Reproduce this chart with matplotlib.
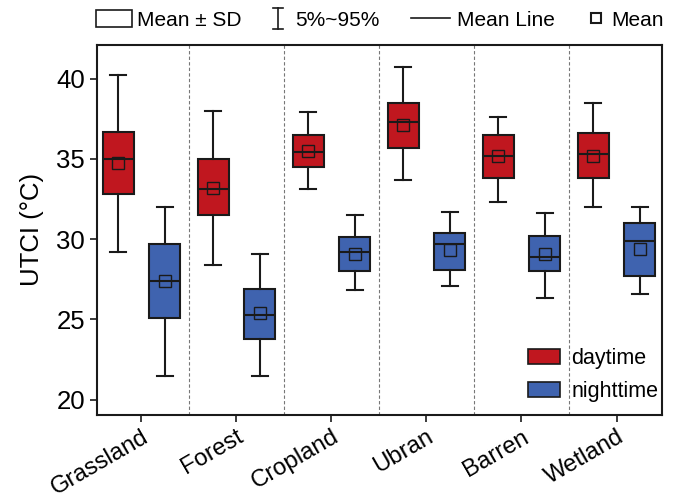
import numpy as np
import matplotlib
matplotlib.use("Agg")
import matplotlib.pyplot as plt
from matplotlib.patches import Patch, Rectangle
from matplotlib.lines import Line2D

plt.rcParams['font.family'] = ['Liberation Sans', 'DejaVu Sans']

# data (UTCI, degC)
cats = ["Grassland", "Forest", "Cropland", "Ubran", "Barren", "Wetland"]

day_p5 = [29.2, 28.4, 33.1, 33.7, 32.3, 32.0]
day_lo = [32.8, 31.5, 34.5, 35.7, 33.8, 33.8]
day_line = [35.0, 33.1, 35.4, 37.3, 35.2, 35.3]
day_mean = [34.75, 33.2, 35.5, 37.1, 35.15, 35.2]
day_hi = [36.7, 35.0, 36.5, 38.5, 36.5, 36.6]
day_p95 = [40.2, 38.0, 37.9, 40.7, 37.6, 38.5]

night_p5 = [21.5, 21.5, 26.8, 27.1, 26.3, 26.6]
night_lo = [25.1, 23.8, 28.0, 28.1, 28.0, 27.7]
night_line = [27.4, 25.3, 29.2, 29.7, 28.9, 29.9]
night_mean = [27.4, 25.4, 29.05, 29.3, 29.1, 29.4]
night_hi = [29.7, 26.9, 30.1, 30.4, 30.2, 31.0]
night_p95 = [32.0, 29.1, 31.5, 31.7, 31.6, 32.0]

red = '#C0171F'
blue = '#3F63AF'
ink = '#1a1a1a'


def make_stats(p5, lo, line, mean, hi, p95):
    return [dict(whislo=a, q1=b, med=c, mean=d, q3=e, whishi=f)
            for a, b, c, d, e, f in zip(p5, lo, line, mean, hi, p95)]


W, H = 677, 498
fig = plt.figure(figsize=(W / 100, H / 100), dpi=100)
ax = fig.add_axes([0.143, 0.167, 0.835, 0.743])

x = np.arange(len(cats))
off = 0.245
w = 0.33

for stats, pos, col in [(make_stats(day_p5, day_lo, day_line, day_mean, day_hi, day_p95), x - off, red),
                        (make_stats(night_p5, night_lo, night_line, night_mean, night_hi, night_p95), x + off, blue)]:
    ax.bxp(stats, positions=pos, widths=w, capwidths=0.17, patch_artist=True,
           showmeans=True, showfliers=False,
           boxprops=dict(facecolor=col, edgecolor=ink, lw=1.5),
           whiskerprops=dict(color=ink, lw=1.5),
           capprops=dict(color=ink, lw=1.5),
           medianprops=dict(color=ink, lw=1.5),
           meanprops=dict(marker='s', markersize=8, markerfacecolor='none',
                          markeredgecolor=ink, markeredgewidth=1.0))

for xs in x[:-1] + 0.5:
    ax.axvline(xs, color='#777777', lw=0.8, ls=(0, (3, 2)), zorder=0)

ax.set_xlim(-0.47, 5.48)
ax.set_ylim(19.05, 42.1)
ax.set_yticks([20, 25, 30, 35, 40])
ax.set_xticks(x)
ax.set_xticklabels(cats, rotation=30, ha='right', rotation_mode='anchor')
ax.tick_params(axis='both', width=1.2, length=5, color=ink)
ax.tick_params(axis='y', labelsize=18.5)
ax.tick_params(axis='x', labelsize=17.2, pad=3)
ax.set_ylabel('UTCI (°C)', fontsize=18.5, labelpad=9)
for s in ax.spines.values():
    s.set_linewidth(1.5)
    s.set_color(ink)

# daytime / nighttime legend
ax.legend(handles=[Patch(facecolor=red, edgecolor=ink, lw=1.2, label='daytime'),
                   Patch(facecolor=blue, edgecolor=ink, lw=1.2, label='nighttime')],
          loc='lower right', bbox_to_anchor=(0.993, 0.035), borderaxespad=0, borderpad=0,
          frameon=False, fontsize=15.5, handlelength=1.5, handleheight=0.7,
          handletextpad=0.5, labelspacing=0.55)

# key of the symbols above the axes (figure pixel positions -> fractions)
fx = lambda px: px / W
fy = lambda py: 1 - py / H
yc = 18
fig.add_artist(Rectangle((fx(96), fy(27)), fx(132) - fx(96), fy(10) - fy(27),
                         transform=fig.transFigure, facecolor='white', edgecolor=ink, lw=1.2))
fig.add_artist(Line2D([fx(278), fx(278)], [fy(29), fy(8)], transform=fig.transFigure, color=ink, lw=1.2))
fig.add_artist(Line2D([fx(273), fx(283)], [fy(29), fy(29)], transform=fig.transFigure, color=ink, lw=1.2))
fig.add_artist(Line2D([fx(273), fx(283)], [fy(8), fy(8)], transform=fig.transFigure, color=ink, lw=1.2))
fig.add_artist(Line2D([fx(411), fx(450)], [fy(yc), fy(yc)], transform=fig.transFigure, color=ink, lw=1.2))
fig.add_artist(Line2D([fx(596)], [fy(yc)], transform=fig.transFigure, ls='None', marker='s',
                      markersize=7, markerfacecolor='none', markeredgecolor=ink, markeredgewidth=1.5))
for px, txt in [(137, 'Mean ± SD'), (295, '5%~95%'), (457, 'Mean Line'), (611, 'Mean')]:
    fig.text(fx(px), fy(yc), txt, fontsize=15, ha='left', va='center_baseline')

fig.savefig('out.png', dpi=100)
